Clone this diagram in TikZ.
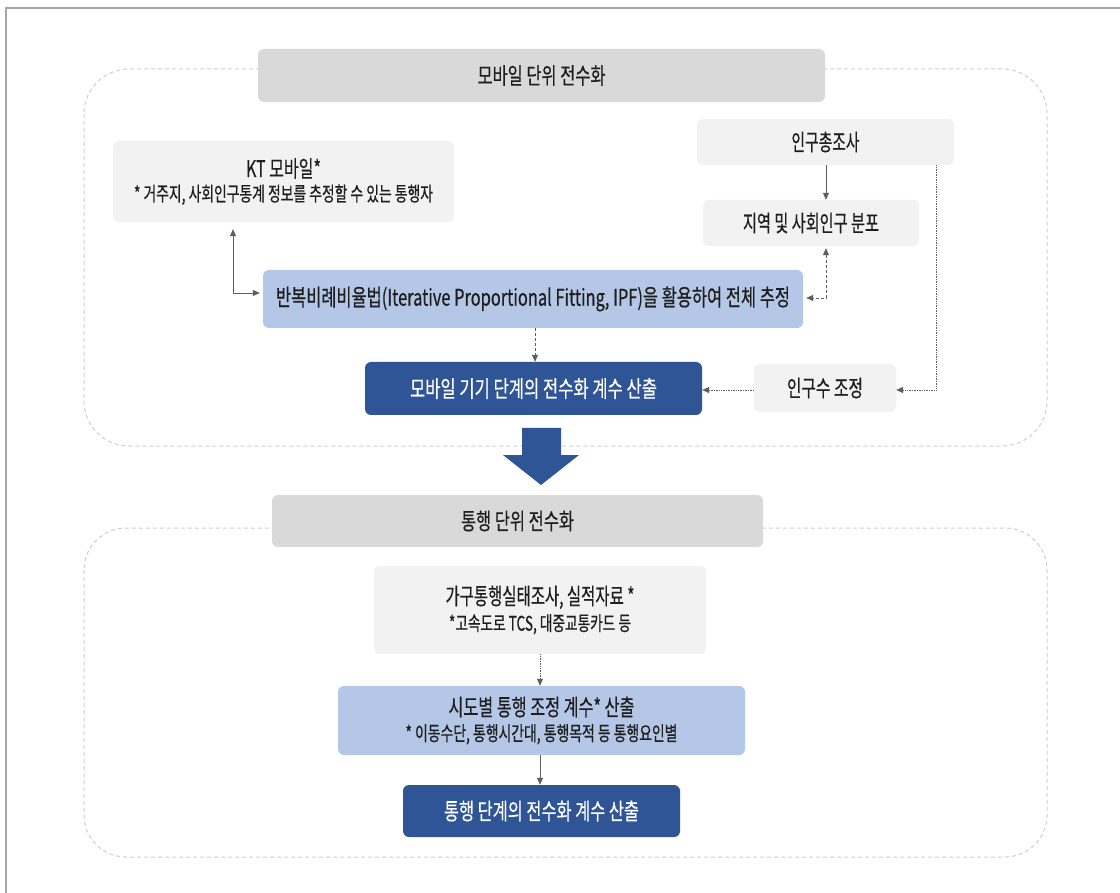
\documentclass[tikz,border=0pt]{standalone}
\usepackage{fontspec}
\setmainfont{Noto Sans CJK KR}[FakeStretch=0.8, FakeBold=0.5]
\usetikzlibrary{arrows.meta}
\definecolor{framec}{HTML}{A6A6A6}
\definecolor{contc}{HTML}{CFCFCF}
\definecolor{titlec}{HTML}{D9D9D9}
\definecolor{lightc}{HTML}{F2F2F2}
\definecolor{lblue}{HTML}{B4C7E7}
\definecolor{dblue}{HTML}{2F5597}
\definecolor{txt}{HTML}{1E1E1E}
\definecolor{linec}{HTML}{5F5F5F}
\newcommand\fitw[2]{\setbox0\hbox{#2}\pgfmathsetmacro\fitfac{#1/(\the\wd0)}\scalebox{\fitfac}[1]{\box0}}
\begin{document}
\begin{tikzpicture}[x=1pt,y=-1pt,
  base/.style={rounded corners=6pt, inner sep=0pt, align=center, text=txt, font=\fontsize{23}{27}\selectfont},
  titlebox/.style={base, fill=titlec, font=\fontsize{23}{27}\selectfont},
  graybox/.style={base, fill=lightc},
  bluebox/.style={base, fill=lblue},
  darkbox/.style={base, fill=dblue, text=white},
  cont/.style={draw=contc, line width=1pt, dash pattern=on 4pt off 3pt},
  conn/.style={draw=linec, line width=0.7pt, -{Triangle[length=7pt,width=6pt]}},
  conn2/.style={draw=linec, line width=0.7pt, {Triangle[length=7pt,width=6pt]}-{Triangle[length=7pt,width=6pt]}}]
\useasboundingbox (0,0) rectangle (1120,893);
\fill[white] (0,0) rectangle (1120,893);
\draw[framec, line width=2.5pt] (6,920) -- (6,8) -- (1130,8);
% containers
\draw[cont, rounded corners=45pt] (84,69) rectangle (1047,446);
\draw[cont, rounded corners=42pt] (84,528) rectangle (1047,857);
% upper section
\node[titlebox, minimum width=567pt, minimum height=53pt] (t1) at (541.5,75.5) {\fitw{128}{모바일 단위 전수화}};
\node[graybox, minimum width=341pt, minimum height=81pt] (kt) at (283.5,181.5)
  {\fitw{75}{KT 모바일*}\\[-3pt]{\fontsize{20}{24}\selectfont\fitw{299}{* 거주지, 사회인구통계 정보를 추정할 수 있는 통행자}}};
\node[graybox, minimum width=257pt, minimum height=46pt] (census) at (825.5,142) {\fitw{68}{인구총조사}};
\node[graybox, minimum width=216pt, minimum height=46pt] (region) at (811,223) {\fitw{136}{지역 및 사회인구 분포}};
\node[bluebox, minimum width=540pt, minimum height=58pt] (ipf) at (533,299) {\fitw{514}{반복비례비율법(Iterative Proportional Fitting, IPF)을 활용하여 전체 추정}};
\node[darkbox, minimum width=337pt, minimum height=53pt] (mobile) at (533.5,388.5) {\fitw{247}{모바일 기기 단계의 전수화 계수 산출}};
\node[graybox, minimum width=142pt, minimum height=48pt] (adj) at (825,388) {\fitw{76}{인구수 조정}};
% connectors upper
\coordinate (ktx) at (233,0);
\coordinate (cx) at (826,0);
\coordinate (rx) at (936,0);
\draw[conn2, shorten <=7pt, shorten >=3pt] (ktx |- kt.south) |- ([yshift=6pt]ipf.west);
\draw[conn] (cx |- census.south) -- (cx |- region.north);
\draw[conn2, densely dashed, shorten <=2pt, shorten >=3pt] (cx |- region.south) |- ([yshift=1pt]ipf.east);
\draw[conn, densely dotted] (rx |- census.south) |- ([yshift=-2pt]adj.east);
\draw[conn, densely dotted] ([yshift=-2pt]adj.west) -- ([yshift=-2pt]adj.west -| mobile.east);
\draw[conn, densely dashed] ([xshift=2pt]ipf.south) -- ([xshift=2pt]ipf.south |- mobile.north);
% big arrow
\fill[dblue] (522,428) -- (561,428) -- (561,455) -- (579,455) -- (541,485) -- (503,455) -- (522,455) -- cycle;
% lower section
\node[titlebox, minimum width=491pt, minimum height=52pt] (t2) at (517.5,521) {\fitw{113}{통행 단위 전수화}};
\node[graybox, minimum width=332pt, minimum height=88pt] (survey) at (540,610)
  {\fitw{189}{가구통행실태조사, 실적자료 *}\\[-1pt]{\fontsize{20}{24}\selectfont\fitw{182}{*고속도로 TCS, 대중교통카드 등}}};
\node[bluebox, minimum width=407pt, minimum height=69pt] (sido) at (541.5,720.5)
  {\fitw{186}{시도별 통행 조정 계수* 산출}\\[-2pt]{\fontsize{20}{24}\selectfont\fitw{272}{* 이동수단, 통행시간대, 통행목적 등 통행요인별}}};
\node[darkbox, minimum width=277pt, minimum height=52pt] (trip) at (541.5,811) {\fitw{195}{통행 단계의 전수화 계수 산출}};
\draw[conn, densely dotted] (survey.south) -- (survey.south |- sido.north);
\draw[conn] (sido.south -| survey.south) -- (survey.south |- trip.north);
\end{tikzpicture}
\end{document}
